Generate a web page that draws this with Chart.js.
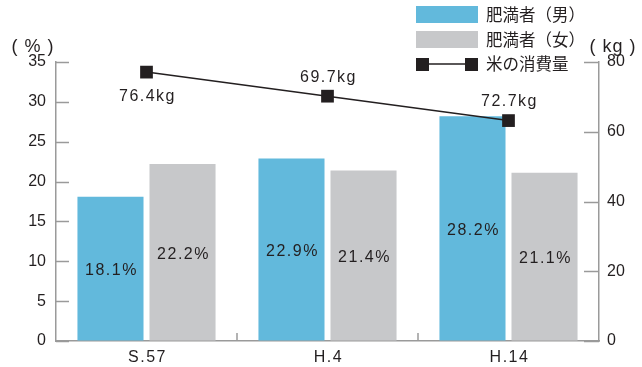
<!DOCTYPE html>
<html>
<head>
<meta charset="utf-8">
<script src="https://cdn.jsdelivr.net/npm/chart.js@4.4.1/dist/chart.umd.min.js"></script>
<style>
    html, body { margin: 0; padding: 0; background: #fff; }
</style>
</head>
<body>
<canvas id="chart" width="642" height="367"></canvas>
<script>
// data
const categories = ['S.57', 'H.4', 'H.14'];
const maleValues = [18.1, 22.9, 28.2];
const femaleValues = [22.2, 21.4, 21.1];
const riceValues = [77.1, 70.2, 63.2];          // plotted positions
const riceLabels = ['76.4kg', '69.7kg', '72.7kg'];
const leftTicks = [0, 5, 10, 15, 20, 25, 30, 35];
const rightTicks = [0, 20, 40, 60, 80];
const seriesNames = ['肥満者（男）', '肥満者（女）', '米の消費量'];

const TEXT = '#231f20';
const AXIS = '#9a9a9a';
const BLUE = '#62b9dc';
const GRAY = '#c7c8ca';
const LATIN = "'Liberation Sans', Arial, sans-serif";
const CJK = "'Noto Sans CJK JP', sans-serif";

const decorPlugin = {
    id: 'decor',
    afterDraw(chart) {
        const ctx = chart.ctx;
        const x = chart.scales.x;
        const y = chart.scales.y;
        const y1 = chart.scales.y1;
        const area = chart.chartArea;
        ctx.save();

        // inner tick marks
        ctx.strokeStyle = AXIS;
        ctx.lineWidth = 1.5;
        ctx.beginPath();
        leftTicks.forEach(v => {
            const py = Math.round(y.getPixelForValue(v)) + 0.5;
            ctx.moveTo(area.left, py);
            ctx.lineTo(area.left + 13, py);
        });
        rightTicks.forEach(v => {
            const py = Math.round(y1.getPixelForValue(v)) + 0.5;
            ctx.moveTo(area.right - 15, py);
            ctx.lineTo(area.right, py);
        });
        for (let i = 1; i < categories.length; i++) {
            const px = (x.getPixelForValue(i - 1) + x.getPixelForValue(i)) / 2;
            ctx.moveTo(px, area.bottom);
            ctx.lineTo(px, area.bottom - 8);
        }
        ctx.stroke();

        // category labels
        ctx.fillStyle = TEXT;
        ctx.font = '16px ' + LATIN;
        ctx.letterSpacing = '1.5px';
        ctx.textAlign = 'center';
        ctx.textBaseline = 'middle';
        categories.forEach((c, i) => {
            ctx.fillText(c, x.getPixelForValue(i) + 1, area.bottom + 17);
        });

        // bar value labels
        [0, 1].forEach(di => {
            const meta = chart.getDatasetMeta(di);
            const vals = chart.data.datasets[di].data;
            meta.data.forEach((bar, i) => {
                const mid = (bar.y + bar.base) / 2 + 2;
                ctx.fillText(vals[i].toFixed(1) + '%', bar.x + 1, mid);
            });
        });

        // line value labels
        const lineMeta = chart.getDatasetMeta(2);
        lineMeta.data.forEach((pt, i) => {
            const dy = i === 0 ? 24 : -19;
            ctx.fillText(riceLabels[i], pt.x + 1, pt.y + dy);
        });

        // axis unit labels
        ctx.letterSpacing = '1px';
        ctx.font = '18px ' + LATIN;
        ctx.fillText('( % )', 33, 47);
        ctx.fillText('( kg )', 613, 47);

        // legend
        ctx.letterSpacing = '0px';
        const lx = 416, lw = 62;
        ctx.fillStyle = BLUE;
        ctx.fillRect(lx, 6, lw, 17);
        ctx.fillStyle = GRAY;
        ctx.fillRect(lx, 31, lw, 17);
        ctx.strokeStyle = TEXT;
        ctx.lineWidth = 1.5;
        ctx.beginPath();
        ctx.moveTo(lx + 6, 64);
        ctx.lineTo(lx + lw - 6, 64);
        ctx.stroke();
        ctx.fillStyle = TEXT;
        ctx.fillRect(lx, 58, 13, 13);
        ctx.fillRect(lx + lw - 13, 58, 13, 13);

        ctx.textAlign = 'left';
        ctx.font = '16.5px ' + CJK;
        seriesNames.forEach((name, i) => {
            ctx.fillText(name, 486, 15 + i * 24.5);
        });
        ctx.restore();
    }
};

const ctx = document.getElementById('chart').getContext('2d');
new Chart(ctx, {
    type: 'bar',
    data: {
        labels: categories,
        datasets: [
            {
                label: seriesNames[0],
                data: maleValues,
                backgroundColor: BLUE,
                yAxisID: 'y',
                order: 2
            },
            {
                label: seriesNames[1],
                data: femaleValues,
                backgroundColor: GRAY,
                yAxisID: 'y',
                order: 2
            },
            {
                type: 'line',
                label: seriesNames[2],
                data: riceValues,
                yAxisID: 'y1',
                borderColor: TEXT,
                borderWidth: 1.5,
                pointStyle: 'rect',
                pointRadius: 9,
                pointBorderWidth: 0,
                pointBackgroundColor: TEXT,
                order: 0
            }
        ]
    },
    options: {
        responsive: false,
        animation: false,
        categoryPercentage: 0.796,
        barPercentage: 0.917,
        layout: { padding: { top: 62, left: 0, right: 0, bottom: 0 } },
        plugins: {
            legend: { display: false },
            tooltip: { enabled: false }
        },
        scales: {
            x: {
                type: 'category',
                offset: true,
                afterFit: s => { s.height = 26; },
                grid: { display: true, drawOnChartArea: false, drawTicks: false, offset: true },
                border: { color: AXIS, width: 1.5 },
                ticks: { display: false }
            },
            y: {
                position: 'left',
                min: 0,
                max: 35,
                afterFit: s => { s.width = 56; },
                afterBuildTicks: s => { s.ticks = leftTicks.map(v => ({ value: v })); },
                grid: { display: true, drawOnChartArea: false, drawTicks: false },
                border: { color: AXIS, width: 1.5 },
                ticks: { color: TEXT, padding: 10, font: { family: LATIN, size: 16 } }
            },
            y1: {
                position: 'right',
                min: 0,
                max: 80,
                afterFit: s => { s.width = 43; },
                afterBuildTicks: s => { s.ticks = rightTicks.map(v => ({ value: v })); },
                grid: { display: true, drawOnChartArea: false, drawTicks: false },
                border: { color: AXIS, width: 1.5 },
                ticks: { color: TEXT, padding: 8, font: { family: LATIN, size: 16 } }
            }
        }
    },
    plugins: [decorPlugin]
});
</script>
</body>
</html>
